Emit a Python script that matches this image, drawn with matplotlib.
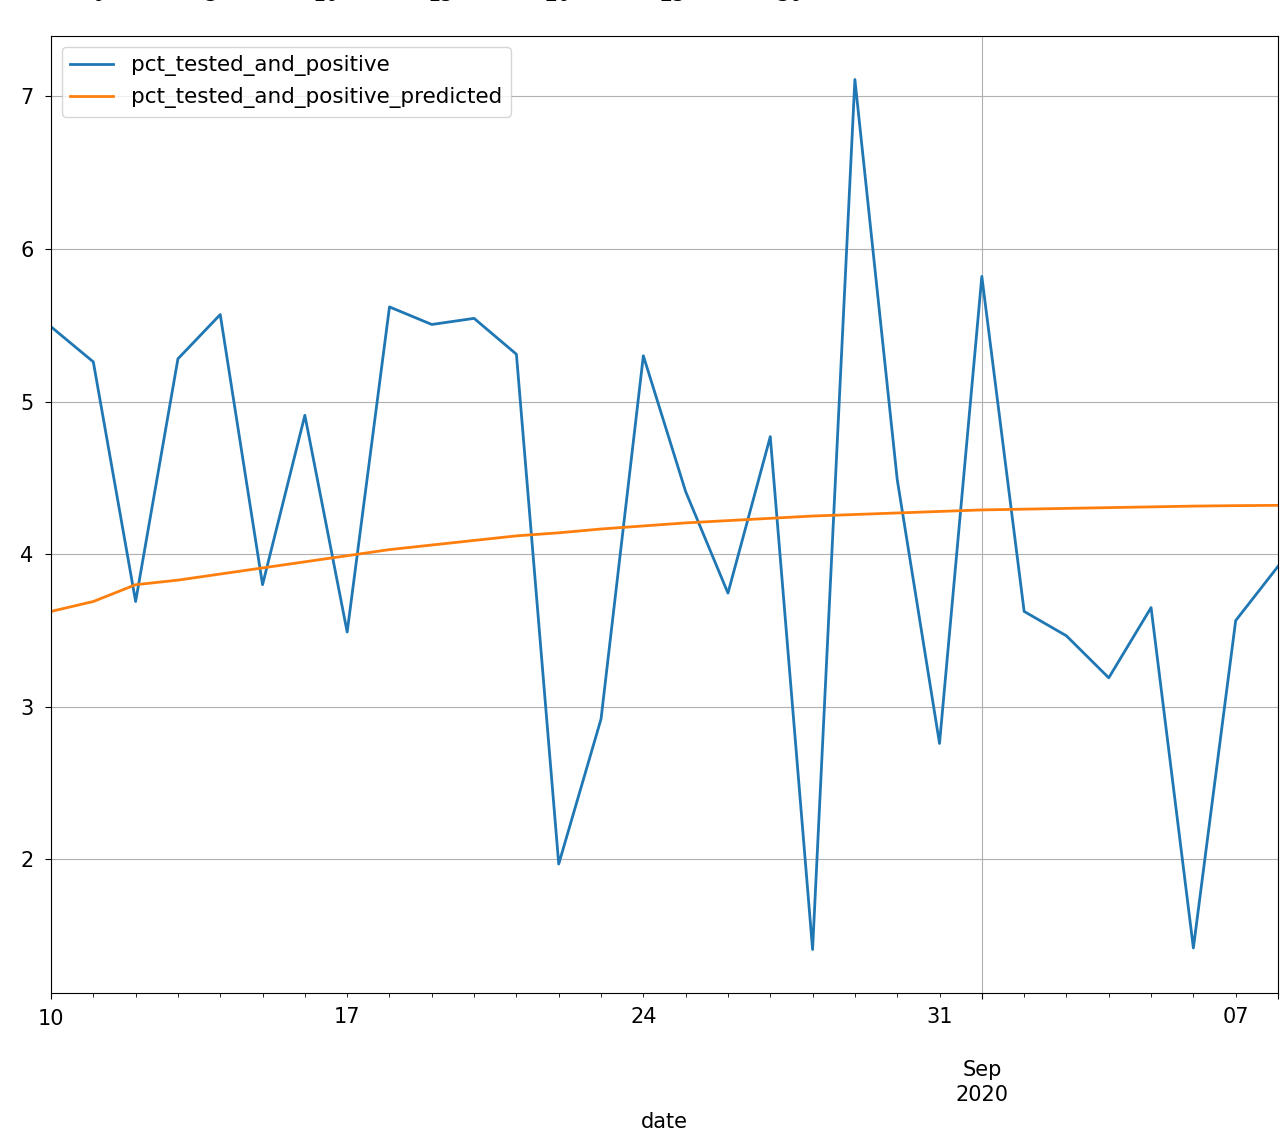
import pandas as pd
import matplotlib
matplotlib.use("Agg")
import matplotlib.pyplot as plt

# gunluk degerler, 10 Agu - 8 Eyl 2020
baslangic = "2020-08-10"
gun_sayisi = 30

pct_tested_and_positive = [
    5.49, 5.26, 3.69, 5.28, 5.57, 3.80, 4.91, 3.49, 5.62, 5.505,
    5.545, 5.31, 1.97, 2.92, 5.30, 4.41, 3.745, 4.77, 1.41, 7.11,
    4.49, 2.76, 5.82, 3.625, 3.465, 3.19, 3.65, 1.42, 3.565, 3.92,
]
pct_tested_and_positive_predicted = [
    3.625, 3.69, 3.80, 3.83, 3.87, 3.91, 3.95, 3.99, 4.03, 4.06,
    4.09, 4.12, 4.14, 4.165, 4.185, 4.205, 4.22, 4.235, 4.25, 4.26,
    4.27, 4.28, 4.29, 4.295, 4.30, 4.305, 4.31, 4.315, 4.318, 4.32,
]

# ustte kesilmis onceki grafigin eksen etiketleri
onceki_etiketler = ["0", "5", "10", "15", "20", "25", "30"]
onceki_x = [98, 211, 326, 441, 558, 673, 790]

plt.rcParams["font.size"] = 15
plt.rcParams["xtick.major.size"] = 4.5
plt.rcParams["xtick.minor.size"] = 3
plt.rcParams["ytick.major.size"] = 4.5
plt.rcParams["xtick.major.pad"] = 7
plt.rcParams["xtick.minor.pad"] = 7
plt.rcParams["ytick.major.pad"] = 8
plt.rcParams["axes.labelpad"] = 5

veri = pd.DataFrame(
    {
        "pct_tested_and_positive": pct_tested_and_positive,
        "pct_tested_and_positive_predicted": pct_tested_and_positive_predicted,
    },
    index=pd.date_range(baslangic, periods=gun_sayisi, freq="D", name="date"),
)

fig = plt.figure(figsize=(12.8, 11.36), dpi=100)
ax = fig.add_axes([51 / 1280, 1 - 993 / 1136, (1278 - 51) / 1280, (993 - 36) / 1136])

veri.plot(ax=ax, grid=True, linewidth=2, color=["#1f77b4", "#ff7f0e"])
ax.legend(loc="upper left", fontsize=15.5)
ax.set_xlabel("date")

# ay/yil etiketinde satir araligi biraz daha genis
fig.canvas.draw()
for etiket in ax.get_xticklabels(which="both"):
    etiket.set_linespacing(1.33)

for etiket, x in zip(onceki_etiketler, onceki_x):
    fig.text(x / 1280, 1 - 5 / 1136, etiket, ha="center", va="bottom", fontsize=15)

fig.savefig("out.png", dpi=100)
